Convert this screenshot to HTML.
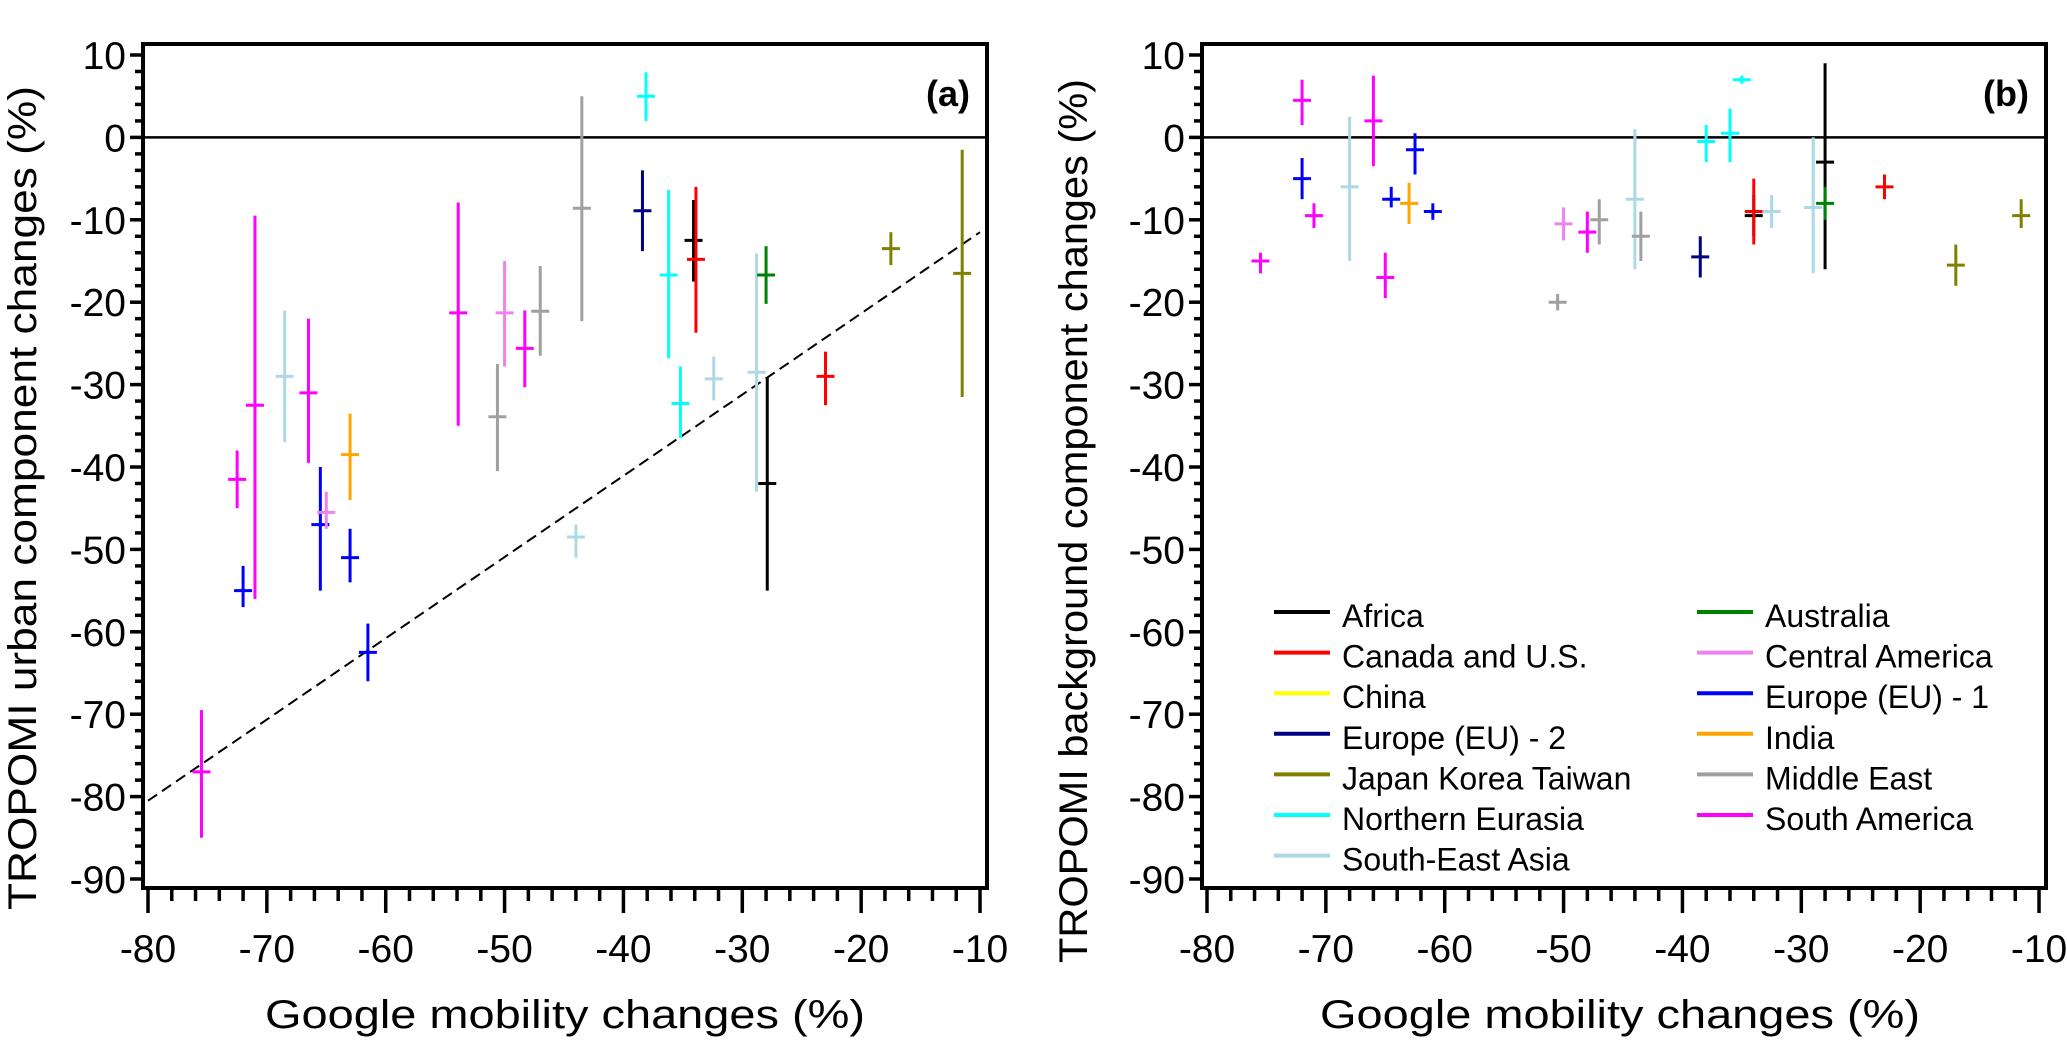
<!DOCTYPE html>
<html><head><meta charset="utf-8"><style>
html,body{margin:0;padding:0;background:#fff;}
svg{display:block;font-family:"Liberation Sans",Arial,sans-serif;}
</style></head><body>
<svg id="chart" width="2067" height="1045" viewBox="0 0 2067 1045" xmlns="http://www.w3.org/2000/svg">
<g id="pa"></g>
<g id="pb"></g>
<g id="legend"></g>
</svg>
<script>
const regionNames = ["Africa","Canada and U.S.","China","Europe (EU) - 2","Japan Korea Taiwan","Northern Eurasia","South-East Asia","Australia","Central America","Europe (EU) - 1","India","Middle East","South America"];
const regionColors = ["#000000","#ff0000","#ffff00","#000080","#808000","#00ffff","#add8e6","#008000","#ee82ee","#0000ff","#ffa500","#a0a0a0","#ff00ff"];
const xTicks = [-80,-70,-60,-50,-40,-30,-20,-10];
const yTicks = [10,0,-10,-20,-30,-40,-50,-60,-70,-80,-90];

// Panel (a) urban component
const regA = [12,9,12,12,6,12,9,8,10,9,9,12,11,8,12,11,11,6,5,3,5,5,0,1,6,6,0,7,1,4,4];
const xA = [-75.5,-72,-72.5,-71,-68.5,-66.5,-65.5,-65,-63,-63,-61.5,-53.9,-50.6,-50,-48.3,-47,-43.5,-44,-38.1,-38.4,-36.2,-35.2,-34.1,-33.9,-32.4,-28.8,-27.9,-28,-23,-17.5,-11.5];
const yA = [-77,-55,-41.5,-32.5,-29,-31,-47,-45.5,-38.5,-51,-62.5,-21.3,-33.9,-21.3,-25.6,-21.1,-8.6,-48.5,5,-8.9,-16.7,-32.3,-12.5,-14.8,-29.3,-28.5,-42,-16.7,-29,-13.5,-16.5];
const loA = [-85,-57,-45,-56,-37,-39.5,-55,-47.5,-44,-54,-66,-35,-40.5,-27.8,-30.3,-26.5,-22.3,-51,2,-13.8,-26.8,-36.5,-17.5,-23.7,-31.9,-43,-55,-20.2,-32.5,-15.5,-31.5];
const hiA = [-69.5,-52,-38,-9.5,-21,-22,-40,-43,-33.5,-47.5,-59,-7.9,-27.5,-15,-21,-15.6,5,-47,7.9,-4,-6.4,-27.8,-7.6,-6,-26.6,-14.1,-29.1,-13.2,-26,-11.5,-1.5];
const fitX = [-80,-10];
const fitY = [-80.5,-11.5];

// Panel (b) background component
const regB = [12,12,9,12,6,12,12,9,10,9,9,11,8,12,11,6,11,3,5,5,5,0,1,6,6,0,7,1,4,4];
const xB = [-75.5,-72,-72,-71,-68,-66,-65,-64.5,-63,-62.5,-61,-50.5,-50,-48,-47,-44,-43.5,-38.5,-38,-36,-35,-34,-34,-32.5,-29,-28,-28,-23,-17,-11.5];
const yB = [-15,4.5,-5,-9.5,-6,2,-17,-7.5,-8,-1.5,-9,-20,-10.5,-11.5,-10,-7.5,-12,-14.5,-0.5,0.5,7,-9.5,-9,-9,-8.5,-3,-8,-6,-15.5,-9.5];
const loB = [-16.5,1.5,-7.5,-11,-15,-3.5,-19.5,-8.5,-10.5,-4.5,-10,-21,-12.5,-14,-13,-16,-15,-17,-3,-3,6.5,-12,-13,-11,-16.5,-16,-10,-7.5,-18,-11];
const hiB = [-14,7,-2.5,-8,2.5,7.5,-14,-6,-5.5,0.5,-8,-19,-8.5,-9,-7.5,1,-9,-12,1.5,3.5,7.5,-7,-5,-7,0,9,-6,-4.5,-13,-7.5];

const NS = "http://www.w3.org/2000/svg";
function mk(tag, attrs, parent){const e=document.createElementNS(NS,tag);for(const k in attrs)e.setAttribute(k,attrs[k]);parent.appendChild(e);return e;}

function drawPanel(g, box, x0px, label, ytitle, ytitleX, ytitleCY, ytitleLen, xtitleCX, regs, xs, ys, los, his, withFit){
  const xs_ = v => x0px + (v+80)*11.886;
  const ys_ = v => 137.4 - v*8.24;
  // zero line
  const z = mk("line",{x1:box.l,x2:box.r,y1:ys_(0),y2:ys_(0),stroke:"#000","stroke-width":2.5},g);
  
  
  // fit
  if(withFit){
    const f = mk("line",{x1:xs_(fitX[0]),y1:ys_(fitY[0]),x2:xs_(fitX[1]),y2:ys_(fitY[1]),stroke:"#000","stroke-width":2,"stroke-dasharray":"11,6"},g);
    
    
  }
  // points
  for(let i=0;i<xs.length;i++){
    const c = regionColors[regs[i]];
    const pg = mk("g",{},g);
    
    
    mk("line",{x1:xs_(xs[i]),x2:xs_(xs[i]),y1:ys_(los[i]),y2:ys_(his[i]),stroke:c,"stroke-width":3},pg);
    mk("line",{x1:xs_(xs[i])-9,x2:xs_(xs[i])+9,y1:ys_(ys[i]),y2:ys_(ys[i]),stroke:c,"stroke-width":3},pg);
  }
  // frame
  const fr = mk("rect",{x:box.l,y:box.t,width:box.r-box.l,height:box.b-box.t,fill:"none",stroke:"#000","stroke-width":4},g);
  
  
  // y ticks
  for(let v=-90;v<=10;v+=2){
    const major = (v%10===0);
    mk("line",{x1:box.l-(major?13:8),x2:box.l,y1:ys_(v),y2:ys_(v),stroke:"#000","stroke-width":3.5},g);
  }
  yTicks.forEach(v=>{
    const t = mk("text",{x:box.l-17,y:ys_(v)+14,"text-anchor":"end","font-size":39},g);
    t.textContent = v;
    
    
  });
  // x ticks
  for(let v=-80;v<=-10;v+=2){
    const major = (v%10===0);
    mk("line",{x1:xs_(v),x2:xs_(v),y1:box.b,y2:box.b+(major?25:13),stroke:"#000","stroke-width":3.5},g);
  }
  xTicks.forEach(v=>{
    const t = mk("text",{x:xs_(v),y:962,"text-anchor":"middle","font-size":39},g);
    t.textContent = v;
    
    
  });
  // titles
  const xt = mk("text",{x:xtitleCX,y:1028,"text-anchor":"middle","font-size":40,textLength:600,lengthAdjust:"spacingAndGlyphs"},g);
  xt.textContent = "Google mobility changes (%)";
  
  
  const yt = mk("text",{x:0,y:0,"text-anchor":"middle","font-size":40,textLength:ytitleLen,lengthAdjust:"spacingAndGlyphs",transform:`translate(${ytitleX},${ytitleCY}) rotate(-90)`},g);
  yt.textContent = ytitle;
  
  
  const pl = mk("text",{x:box.r-17,y:106,"text-anchor":"end","font-size":36,"font-weight":"bold"},g);
  pl.textContent = label;
  
  
}

drawPanel(document.getElementById('pa'),{l:143,t:44,r:987,b:888},148,"(a)","TROPOMI urban component changes (%)",36,498,824,565,regA,xA,yA,loA,hiA,true);
drawPanel(document.getElementById('pb'),{l:1202,t:44,r:2046,b:888},1207,"(b)","TROPOMI background component changes (%)",1087,521,884,1620,regB,xB,yB,loB,hiB,false);

// legend
const lg = document.getElementById('legend');
const legendOrder = [[0,1,2,3,4,5,6],[7,8,9,10,11,12]];
legendOrder.forEach((col,ci)=>{
  const lx = ci===0 ? 1274 : 1697;
  col.forEach((ri,k)=>{
    const y = 612 + k*40.6;
    const eg = mk("g",{},lg);
    
    
    mk("line",{x1:lx,x2:lx+56,y1:y,y2:y,stroke:regionColors[ri],"stroke-width":4},eg);
    const t = mk("text",{x:lx+68,y:y+15,"font-size":32},eg);
    t.textContent = regionNames[ri];
  });
});
</script>
</body></html>
